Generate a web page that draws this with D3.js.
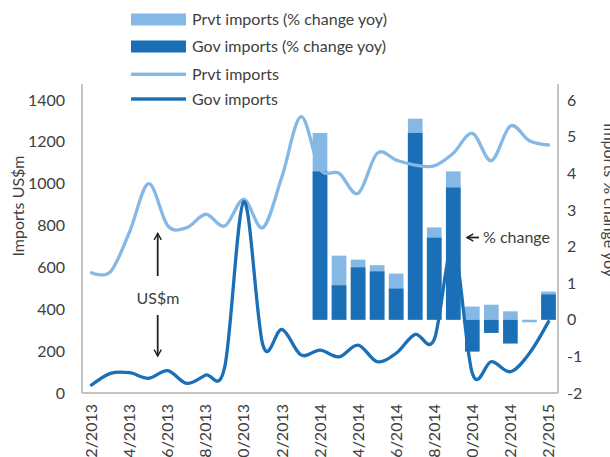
<!DOCTYPE html>
<html>
<head>
<meta charset="utf-8">
<script src="https://cdn.jsdelivr.net/npm/d3@7"></script>
<style>
  body { margin: 0; background: #fff; }
  text { font-family: Lato, "Open Sans", sans-serif; fill: #404040; }
</style>
</head>
<body>
<div id="chart"></div>
<script>
const months = ["02/2013","03/2013","04/2013","05/2013","06/2013","07/2013","08/2013","09/2013",
  "10/2013","11/2013","12/2013","01/2014","02/2014","03/2014","04/2014","05/2014","06/2014",
  "07/2014","08/2014","09/2014","10/2014","11/2014","12/2014","01/2015","02/2015"];
const tickMonths = months.filter((d, i) => i % 2 === 0);

// US$m
const prvtImports = [575, 580, 770, 1000, 800, 790, 854, 798, 925, 790, 1033, 1320, 1070,
  1050, 954, 1145, 1113, 1089, 1085, 1145, 1241, 1110, 1276, 1205, 1185];
const govImports = [38, 94, 97, 70, 107, 46, 86, 126, 914, 229, 304, 182, 205,
  173, 229, 150, 190, 280, 256, 700, 94, 150, 102, 190, 341];

// % change yoy, 02/2014 .. 02/2015
const barMonths = months.slice(12);
const prvtChange = [5.10, 1.75, 1.64, 1.49, 1.26, 5.49, 2.52, 4.05, 0.36, 0.41, 0.23, -0.07, 0.77];
const govChange = [4.05, 0.94, 1.43, 1.32, 0.85, 5.10, 2.24, 3.61, -0.87, -0.36, -0.65, 0, 0.69];

const leftTicks = [0, 200, 400, 600, 800, 1000, 1200, 1400];
const rightTicks = [-2, -1, 0, 1, 2, 3, 4, 5, 6];

const width = 610, height = 457;
const plot = {left: 82, right: 558, top: 84, bottom: 393};
const lightBlue = '#85b8e4';
const darkBlue = '#1a6fb7';

const svg = d3.select('#chart').append('svg')
  .attr('width', width)
  .attr('height', height);

const xScale = d3.scaleBand().domain(months).range([plot.left, plot.right]);
const yLeft = d3.scaleLinear().domain([0, 1400]).range([plot.bottom, 100]);
const yRight = d3.scaleLinear().domain([-2, 6]).range([plot.bottom, 100]);
const xc = d => xScale(d) + xScale.bandwidth() / 2;

// bars (Prvt behind, Gov in front)
const barW = xScale.bandwidth() * 0.77;
const barG = svg.append('g').attr('class', 'bars');
[[prvtChange, lightBlue], [govChange, darkBlue]].forEach(([vals, color]) => {
  barG.selectAll(null)
    .data(barMonths.map((m, i) => ({m, v: vals[i]})))
    .enter().append('rect')
    .attr('x', d => xc(d.m) - barW / 2)
    .attr('width', barW)
    .attr('y', d => yRight(Math.max(0, d.v)))
    .attr('height', d => Math.abs(yRight(d.v) - yRight(0)))
    .attr('fill', color);
});

// lines
const line = d3.line()
  .x(d => xc(d.m))
  .y(d => yLeft(d.v))
  .curve(d3.curveCatmullRom.alpha(0));

[[prvtImports, lightBlue], [govImports, darkBlue]].forEach(([vals, color]) => {
  svg.append('path')
    .attr('fill', 'none')
    .attr('stroke', color)
    .attr('stroke-width', 3.3)
    .attr('stroke-linecap', 'round')
    .attr('d', line(months.map((m, i) => ({m, v: vals[i]}))));
});

// axis lines
const axisColor = '#b0b0b0';
svg.append('line').attr('x1', plot.left).attr('x2', plot.left)
  .attr('y1', plot.top).attr('y2', plot.bottom).attr('stroke', axisColor).attr('stroke-width', 1.5);
svg.append('line').attr('x1', plot.right).attr('x2', plot.right)
  .attr('y1', plot.top).attr('y2', plot.bottom).attr('stroke', axisColor).attr('stroke-width', 1.5);
svg.append('line').attr('x1', plot.left).attr('x2', plot.right)
  .attr('y1', plot.bottom).attr('y2', plot.bottom).attr('stroke', axisColor).attr('stroke-width', 1.5);

// axes (labels only)
const leftAxisG = svg.append('g')
  .attr('transform', `translate(${plot.left - 17},0)`)
  .call(d3.axisLeft(yLeft).tickValues(leftTicks).tickFormat(d3.format('d')).tickSize(0).tickPadding(0));
const rightAxisG = svg.append('g')
  .attr('transform', `translate(${plot.right + 9},0)`)
  .call(d3.axisRight(yRight).tickValues(rightTicks).tickFormat(d3.format('d')).tickSize(0).tickPadding(0));
const xAxisG = svg.append('g')
  .attr('transform', `translate(0,${plot.bottom})`)
  .call(d3.axisBottom(xScale).tickValues(tickMonths).tickSize(0).tickPadding(0));

[leftAxisG, rightAxisG, xAxisG].forEach(g => {
  g.select('.domain').remove();
  g.selectAll('text').attr('font-size', 16).attr('font-family', null).attr('fill', '#404040');
});
rightAxisG.selectAll('text').text(d => d < 0 ? '-' + Math.abs(d) : d);
xAxisG.selectAll('text')
  .attr('text-anchor', 'end')
  .attr('transform', 'translate(0,11) rotate(-90)')
  .attr('x', 0).attr('y', 0).attr('dy', '0.35em');

// axis titles
svg.append('text')
  .attr('transform', 'translate(18,206) rotate(-90)')
  .attr('text-anchor', 'middle').attr('dy', '0.35em')
  .attr('font-size', 16)
  .text('Imports US$m');
svg.append('text')
  .attr('transform', 'translate(610,200) rotate(90)')
  .attr('text-anchor', 'middle').attr('dy', '0.35em')
  .attr('font-size', 16)
  .text('Imports % change yoy');

// legend
const legend = [
  {label: 'Prvt imports (% change yoy)', color: lightBlue, type: 'bar', y: 19.5},
  {label: 'Gov imports (% change yoy)', color: darkBlue, type: 'bar', y: 46.5},
  {label: 'Prvt imports', color: lightBlue, type: 'line', y: 74.3},
  {label: 'Gov imports', color: darkBlue, type: 'line', y: 99}
];
const lg = svg.append('g').selectAll('g').data(legend).enter().append('g')
  .attr('transform', d => `translate(131,${d.y})`);
lg.filter(d => d.type === 'bar').append('rect')
  .attr('x', 0).attr('y', -6).attr('width', 55).attr('height', 12)
  .attr('fill', d => d.color);
lg.filter(d => d.type === 'line').append('rect')
  .attr('x', 0).attr('y', -1.7).attr('width', 55).attr('height', 3.4)
  .attr('fill', d => d.color);
lg.append('text')
  .attr('x', 61).attr('dy', '0.35em')
  .attr('font-size', 16)
  .text(d => d.label);

// annotations
const defs = svg.append('defs');
defs.append('marker')
  .attr('id', 'arrow')
  .attr('viewBox', '0 0 10 10')
  .attr('refX', 8).attr('refY', 5)
  .attr('markerWidth', 5).attr('markerHeight', 5)
  .attr('orient', 'auto')
  .append('path')
  .attr('d', 'M1,1 L8,5 L1,9')
  .attr('fill', 'none').attr('stroke', '#222').attr('stroke-width', 1.6);

const arrows = [
  [157.7, 276, 157.7, 233.5],
  [157.7, 315, 157.7, 356],
  [479, 237.5, 467, 237.5]
];
svg.selectAll('.arrow').data(arrows).enter().append('line')
  .attr('class', 'arrow')
  .attr('x1', d => d[0]).attr('y1', d => d[1])
  .attr('x2', d => d[2]).attr('y2', d => d[3])
  .attr('stroke', '#222').attr('stroke-width', 1.8)
  .attr('marker-end', 'url(#arrow)');

svg.append('text')
  .attr('x', 158).attr('y', 298.5)
  .attr('text-anchor', 'middle').attr('dy', '0.35em')
  .attr('font-size', 16)
  .text('US$m');
svg.append('text')
  .attr('x', 483).attr('y', 237)
  .attr('dy', '0.35em')
  .attr('font-size', 16)
  .text('% change');
</script>
</body>
</html>
